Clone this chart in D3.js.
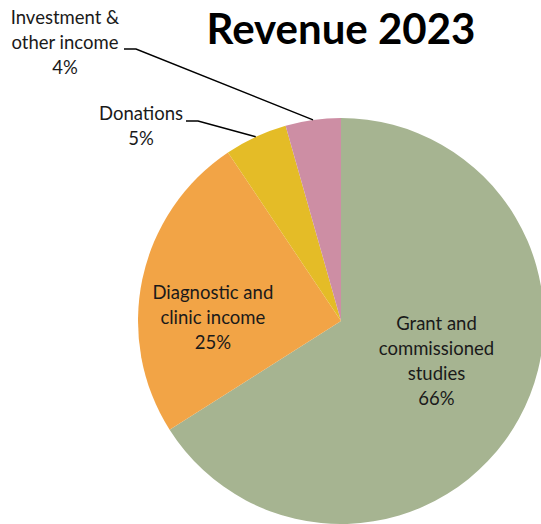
<!DOCTYPE html>
<html><head><meta charset="utf-8">
<script src="https://cdn.jsdelivr.net/npm/d3@7"></script>
<style>html,body{margin:0;padding:0;background:#fff;}svg{display:block;}</style>
</head><body>
<svg id="c" width="541" height="524"></svg>
<script>
const categories = ["Grant and commissioned studies", "Diagnostic and clinic income", "Donations", "Investment & other income"];
const values = [66.0, 24.6, 5.0, 4.4];
const colors = ["#A6B491", "#F2A446", "#E4BC27", "#CD8EA4"];
const labelLines = [["Grant and", "commissioned", "studies"], ["Diagnostic and", "clinic income"], ["Donations"], ["Investment &", "other income"]];
const title = "Revenue 2023";

const W = 541, H = 524;
const cx = 341, cy = 321, R = 203;
const font = "Lato, 'Open Sans', sans-serif";
const svg = d3.select("#c");
const g = svg.append("g").attr("transform", `translate(${cx},${cy})`);

const total = d3.sum(values);
const data = categories.map((c, i) => ({ c, v: values[i], i }));
const pie = d3.pie().sort(null).value(d => d.v);
const arcs = pie(data);
const arc = d3.arc().innerRadius(0).outerRadius(R);

g.selectAll("path").data(arcs).join("path")
  .attr("d", arc).attr("fill", (d) => colors[d.data.i]);

const pct = d => Math.round(d.data.v / total * 100) + "%";
const fs = 18.5, lh = 25;

// inside labels
const inside = { 0: { r: 0.52, dx: 3, dy: -11 }, 1: { r: 0.63, dx: -3, dy: 23 } };
// outside labels: text anchor position and leader geometry
const outside = {
  2: { tx: 141, ty: 114, lx: 186, ly: 121 },
  3: { tx: 65, ty: 18, lx: 124, ly: 49 }
};

arcs.forEach(d => {
  const i = d.data.i;
  const lines = labelLines[i].concat([pct(d)]);
  if (inside[i]) {
    const o = inside[i];
    const a = d3.arc().innerRadius(R * o.r).outerRadius(R * o.r);
    const [x, y] = a.centroid(d);
    const px = cx + x + o.dx, py = cy + y + o.dy;
    const t = svg.append("text").attr("font-family", font).attr("font-size", fs)
      .attr("fill", "#1a1a1a").attr("text-anchor", "middle");
    const y0 = py - (lines.length - 1) * lh / 2;
    lines.forEach((l, k) => t.append("tspan").attr("x", px).attr("y", y0 + k * lh).attr("dy", "0.35em").text(l));
  } else {
    const o = outside[i];
    const t = svg.append("text").attr("font-family", font).attr("font-size", fs)
      .attr("fill", "#1a1a1a").attr("text-anchor", "middle");
    lines.forEach((l, k) => t.append("tspan").attr("x", o.tx).attr("y", o.ty + k * lh).attr("dy", "0.35em").text(l));
    const mid = (d.startAngle + d.endAngle) / 2;
    const ex = cx + R * Math.sin(mid), ey = cy - R * Math.cos(mid);
    svg.append("polyline")
      .attr("points", [[o.lx, o.ly], [o.lx + 12, o.ly], [ex, ey]].map(p => p.join(",")).join(" "))
      .attr("fill", "none").attr("stroke", "#000").attr("stroke-width", 1.4);
  }
});

svg.append("text").attr("x", cx).attr("y", 44).attr("text-anchor", "middle")
  .attr("font-family", font).attr("font-weight", "bold").attr("font-size", 42)
  .attr("fill", "#000").text(title);
</script>
</body></html>
